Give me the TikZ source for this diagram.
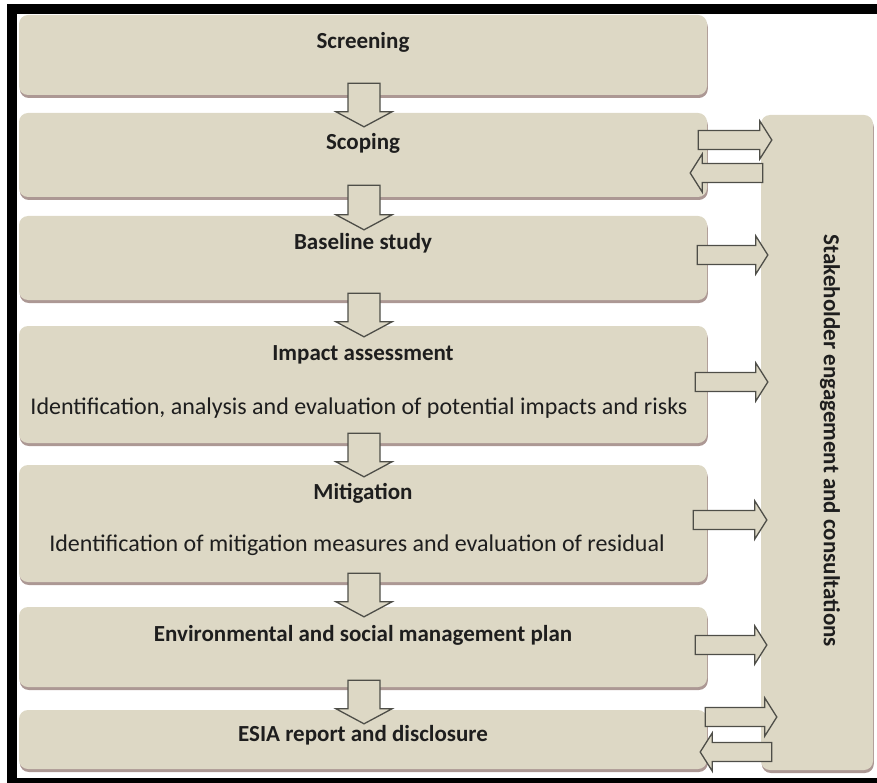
\documentclass[tikz,border=0pt]{standalone}
\usepackage{fontspec}
\setmainfont{Carlito}
\usetikzlibrary{calc,shadows}

\definecolor{stagefill}{RGB}{221,216,197}
\definecolor{stageshade}{RGB}{172,152,148}
\definecolor{blockline}{RGB}{78,78,72}
\definecolor{stagetext}{RGB}{30,30,30}

\tikzset{
  stagebox/.style={rectangle, rounded corners=9pt, fill=stagefill, inner sep=0pt,
    general shadow={fill=stageshade, shadow xshift=0.8pt, shadow yshift=-3pt}},
  stagetitle/.style={font=\fontsize{23}{27}\selectfont\bfseries, text=stagetext},
  stagenote/.style={font=\fontsize{24}{28}\selectfont, text=stagetext},
  blockarrow/.style={draw=blockline, fill=stagefill, line width=1.3pt},
  vblock/.style={blockarrow, to path={let \p1=(\tikztostart), \p2=(\tikztotarget) in
    ({\x1-16pt},{\y1}) -- ({\x1+16pt},{\y1}) -- ({\x1+16pt},{\y2+15pt}) -- ({\x1+28pt},{\y2+15pt})
    -- (\x2,\y2) -- ({\x1-28pt},{\y2+15pt}) -- ({\x1-16pt},{\y2+15pt}) -- cycle}},
  hblock/.style={blockarrow, to path={let \p1=(\tikztostart), \p2=(\tikztotarget) in
    ({\x1},{\y1+9.5pt}) -- ({\x2-(#1)},{\y1+9.5pt}) -- ({\x2-(#1)},{\y1+19pt}) -- (\x2,\y2)
    -- ({\x2-(#1)},{\y1-19pt}) -- ({\x2-(#1)},{\y1-9.5pt}) -- ({\x1},{\y1-9.5pt}) -- cycle}}
}

\begin{document}
\begin{tikzpicture}[x=1pt,y=-1pt]
\useasboundingbox (0,0) rectangle (877,783);

% stages
\node[stagebox, minimum width=688pt, minimum height=80pt]  (scr)  at (363,55)    {};
\node[stagebox, minimum width=688pt, minimum height=84pt]  (sco)  at (363,155)   {};
\node[stagebox, minimum width=688pt, minimum height=84pt]  (bas)  at (363,258)   {};
\node[stagebox, minimum width=688pt, minimum height=117pt] (imp)  at (363,384.5) {};
\node[stagebox, minimum width=688pt, minimum height=117pt] (mit)  at (363,523.5) {};
\node[stagebox, minimum width=688pt, minimum height=80pt]  (env)  at (363,647)   {};
\node[stagebox, minimum width=688pt, minimum height=59pt]  (esia) at (363,739.5) {};
\node[stagebox, minimum width=112pt, minimum height=655pt] (stake) at (817,442.5) {};

\begin{scope}[stagetitle]
\node (scrt)  at (363,42)  {Screening};
\node (scot)  at (363,143) {Scoping};
\node (bast)  at (363,243) {Baseline study};
\node (impt)  at (363,355) {Impact assessment};
\node (mitt)  at (363,493) {Mitigation};
\node (envt)  at (363,635) {Environmental and social management plan};
\node (esiat) at (363,735) {ESIA report and disclosure};
\node[rotate=-90] (staket) at (830,441) {Stakeholder engagement and consultations};
\end{scope}

\begin{scope}[stagenote]
\node (impn) at (359,408) {Identification, analysis and evaluation of potential impacts and risks};
\node (mitn) at (357,545) {Identification of mitigation measures and evaluation of residual};
\end{scope}

% down the sequence
\draw[vblock] ($(scr.south)+(1,-12)$) to ($(sco.north)+(1,14)$);
\draw[vblock] ($(sco.south)+(1,-12)$) to ($(bas.north)+(1,14)$);
\draw[vblock] ($(bas.south)+(1,-7)$)  to ($(imp.north)+(1,11)$);
\draw[vblock] ($(imp.south)+(1,-10)$) to ($(mit.north)+(1,12)$);
\draw[vblock] ($(mit.south)+(1,-9)$)  to ($(env.north)+(1,10)$);
\draw[vblock] ($(env.south)+(1,-7)$)  to ($(esia.north)+(1,14)$);

% to and from the stakeholders
\draw[hblock=12pt]  ($(sco.east)+(-9,-15)$) to ($(stake.west |- sco.east)+(11,-15)$);
\draw[hblock=-12pt] ($(stake.west |- sco.east)+(2,18)$) to ($(sco.east)+(-17,18)$);
\draw[hblock=12pt]  ($(bas.east)+(-10,-3)$) to ($(stake.west |- bas.east)+(7,-3)$);
\draw[hblock=12pt]  ($(imp.east)+(-12,-2.5)$) to ($(stake.west |- imp.east)+(7,-2.5)$);
\draw[hblock=12pt]  ($(mit.east)+(-14,-3.5)$) to ($(stake.west |- mit.east)+(6,-3.5)$);
\draw[hblock=12pt]  ($(env.east)+(-12,-2)$) to ($(stake.west |- env.east)+(6,-2)$);
\draw[hblock=12pt]  ($(esia.east)+(-2,-22.5)$) to ($(stake.west |- esia.east)+(16,-22.5)$);
\draw[hblock=-12pt] ($(stake.west |- esia.east)+(11,12.5)$) to ($(esia.east)+(-7,12.5)$);

% frame
\draw[line width=9.5pt] (12,9) rectangle (890,782.5);
\end{tikzpicture}
\end{document}
